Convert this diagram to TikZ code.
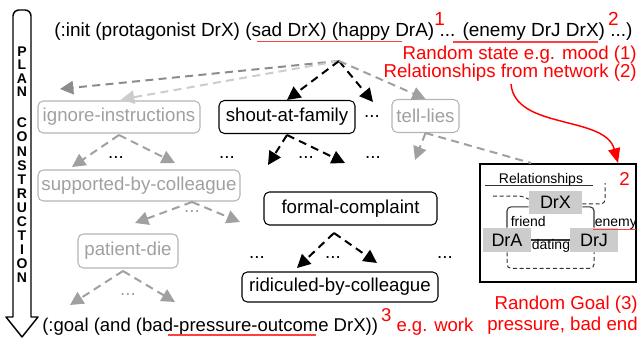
\documentclass[tikz,border=0pt]{standalone}
\usepackage{fontspec}
\setmainfont{Liberation Sans}
\usetikzlibrary{arrows.meta}
\definecolor{arrgray}{HTML}{A0A0A0}
\definecolor{darkarr}{HTML}{8C8C8C}
\definecolor{lightarr}{HTML}{CCCCCC}
\definecolor{boxgray}{HTML}{B4B4B4}
\definecolor{txtgray}{HTML}{A0A0A0}
\definecolor{relfill}{HTML}{CCCCCC}
\definecolor{linkdark}{HTML}{333333}
\tikzset{
  planbox/.style={draw, rounded corners=4pt, line width=0.8pt, inner sep=0pt,
    font=\fontsize{14}{16}\selectfont},
  greybox/.style={planbox, draw=boxgray, text=txtgray},
  dashlink/.style={line width=1.5pt, dash pattern=on 6pt off 4pt,
    -{Triangle[length=10pt,width=10pt]}},
  blacklink/.style={dashlink, color=black},
  greylink/.style={dashlink, color=arrgray},
  dotsnode/.style={font=\fontsize{14}{16}\selectfont, inner sep=0pt},
  greydots/.style={dotsnode, text=txtgray},
  planletter/.style={font=\fontsize{10.5}{12}\selectfont\bfseries, inner sep=0pt},
  relnode/.style={fill=relfill, inner sep=0pt, font=\fontsize{13.5}{15}\selectfont},
  reltext/.style={font=\fontsize{10.5}{12}\selectfont, inner sep=0pt},
  relline/.style={draw=linkdark, line width=0.8pt, rounded corners=3pt},
  reldash/.style={draw=linkdark, line width=0.75pt, dash pattern=on 3pt off 2pt, rounded corners=3pt},
  rednote/.style={text=red, font=\fontsize{14}{16}\selectfont, inner sep=0pt},
  redmark/.style={draw=red!75, line width=0.8pt},
}
\begin{document}
\begin{tikzpicture}[x=0.75pt,y=-0.75pt]
\useasboundingbox (0,0) rectangle (640,339);

% plan-construction arrow on the left
\draw[line width=1.1pt, line join=round]
  (13,317) -- (13,16) arc[start angle=180,end angle=270,radius=6]
  -- (25,10) arc[start angle=270,end angle=360,radius=6]
  -- (31,317) -- (38,317) -- (22,337) -- (6,317) -- cycle;
\foreach \ch/\yy [count=\i] in {P/51.5,L/65,A/78.5,N/92,
    C/123,O/137.1,N/151.2,S/165.3,T/179.4,R/193.5,U/207.6,C/221.7,T/235.8,I/249.9,O/264,N/278.1}
  \node[planletter] (pl\i) at (22,\yy) {\ch};

% initial state
\node[anchor=base west, inner sep=0pt, font=\fontsize{14.25}{16}\selectfont] (init) at (54,36.5)
  {(:init (protagonist DrX) (sad DrX) (happy DrA)\rlap{\color{red}\raisebox{7.9pt}{1}} ... (enemy DrJ DrX)\rlap{\hspace{2.25pt}\color{red}\raisebox{7.9pt}{2}} ...)};
\draw[redmark] (257,41.5) -- (402,41.5);
\draw[redmark] (453,42) -- (598,42);

\node[rednote, anchor=base east] (moodnote) at (637,59.5) {Random state e.g. mood (1)};
\node[rednote, anchor=base east] (netnote) at (637,77.5) {Relationships from network (2)};

% goal
\node[anchor=base west, inner sep=0pt, font=\fontsize{13.9}{16}\selectfont] (goal) at (42,331)
  {(:goal (and (bad-pressure-outcome DrX))\hspace{2.25pt}{\color{red}\raisebox{7.5pt}{3} e.g. work}};
\draw[redmark] (168,335) -- (316,335);
\node[rednote, anchor=base east] (goalnote) at (638,309.5) {Random Goal (3)};
\node[rednote, anchor=base east] (goalnote2) at (638,330) {pressure, bad end};

% plan steps
\node[greybox, minimum width=121.5pt, minimum height=24pt] (ign) at (119,117) {ignore-instructions};
\node[planbox, minimum width=102pt, minimum height=24.75pt] (shout) at (287,117) {shout-at-family};
\node[greybox, minimum width=50.25pt, minimum height=24.75pt] (tell) at (425.5,116) {tell-lies};
\node[greybox, minimum width=151.5pt, minimum height=23.25pt] (supp) at (139,185.5) {supported-by-colleague};
\node[greybox, minimum width=75pt, minimum height=25.5pt] (pat) at (128,251) {patient-die};
\node[planbox, minimum width=129.75pt, minimum height=24.75pt] (formal) at (350.5,208.5) {formal-complaint};
\node[planbox, minimum width=147pt, minimum height=22.5pt] (ridic) at (340,287) {ridiculed-by-colleague};

% elided branches
\node[dotsnode] (dA) at (372,117) {...};
\node[dotsnode] (dB) at (116,158) {...};
\node[dotsnode] (dC) at (227,158) {...};
\node[dotsnode] (dD) at (306,158) {...};
\node[dotsnode] (dE) at (373,158) {...};
\node[greydots] (dF) at (192,212) {...};
\node[greydots] (dG) at (128,295) {...};
\node[dotsnode] (dH) at (257,258) {...};
\node[dotsnode] (dI) at (333,258) {...};
\node[dotsnode] (dJ) at (445,258) {...};

% fork points and arrow ends
\coordinate (fk0) at (339,61);
\coordinate (fk1) at (119,135);
\coordinate (fk2) at (287,135);
\coordinate (fk3) at (192,202);
\coordinate (fk4) at (123,271);
\coordinate (fk5) at (334,233);
\coordinate (tA) at (60,89);
\coordinate (tB) at (121,99.5);
\coordinate (tC) at (373,102);
\coordinate (tD) at (72,167);
\coordinate (tE) at (175,163);
\coordinate (tF) at (268,165);
\coordinate (tG) at (345,163);
\coordinate (tH) at (415,160);
\coordinate (tI) at (135,223);
\coordinate (tJ) at (240,222);
\coordinate (tK) at (70,305);
\coordinate (tL) at (175,302);
\coordinate (tM) at (297,268);
\coordinate (tN) at (377,263);

\draw[dashlink, color=darkarr] (fk0) -- (tA);
\draw[dashlink, color=lightarr] (fk0) -- (tB);
\draw[blacklink] (fk0) -- (shout.north);
\draw[blacklink] (fk0) -- (tC);
\draw[greylink] (fk0) -- (tell.north);

\draw[greylink] (fk1) -- (tD);
\draw[greylink] (fk1) -- (tE);
\draw[blacklink] (fk2) -- (tF);
\draw[blacklink] (fk2) -- (tG);
\draw[greylink] (tell.south) -- (tH);
\draw[greylink] (fk3) -- (tI);
\draw[greylink] (fk3) -- (tJ);
\draw[greylink] (fk4) -- (tK);
\draw[greylink] (fk4) -- (tL);
\draw[blacklink] (fk5) -- (tM);
\draw[blacklink] (fk5) -- (tN);

% relationship network
\node[draw, line width=1.5pt, minimum width=117pt, minimum height=88.5pt, inner sep=0pt] (relbox) at (558,223) {};
\draw[line width=1.5pt, dash pattern=on 6pt off 4pt, color=arrgray] (tell.south) -- ([xshift=39pt]relbox.north west);

\node[rednote] (two) at (624.5,178.5) {2};
\node[reltext, anchor=base] (rtitle) at (541,183.5) {Relationships};
\coordinate (ulA) at (485,185.5);
\coordinate (ulB) at (593,185.5);
\draw[draw=linkdark, line width=0.9pt] (ulA) -- (ulB);

\node[relnode, minimum width=39.75pt, minimum height=17.25pt] (drx) at (555.5,202.5) {DrX};
\node[relnode, minimum width=36pt, minimum height=18pt] (dra) at (507,240) {DrA};
\node[relnode, minimum width=36pt, minimum height=18pt] (drj) at (594,240) {DrJ};

\draw[relline] ([yshift=-3.3pt]drx.west) -| (dra.north);
\draw[relline] ([yshift=-3.3pt]drx.east) -| (drj.north);
\draw[relline] (dra.east) -- (drj.west);
\node[reltext, anchor=base west] (friend) at (510.5,226) {friend};
\node[reltext, anchor=base west] (enemy) at (594.5,226) {enemy};
\node[reltext, anchor=base] (dating) at (551,249.5) {dating};
\draw[redmark] (593,229.5) -- (636,229.5);

\coordinate (din) at (493,196);
\coordinate (dinb) at (522,196);
\coordinate (dout) at (605,183);
\draw[reldash] (din) -- (dinb) -- ([yshift=2.5pt]drx.west);
\draw[reldash] ([yshift=-1pt]drx.east) -| (dout);
\draw[reldash] (dra.south) -- ++(0,16) -| (drj.south);

% red link from the note to the network
\coordinate (netfoot) at (511,84);
\draw[red, line width=1.1pt, -{Triangle[length=11pt,width=9pt]}]
  (netfoot) .. controls (515,130) and (605,115) .. ([xshift=-14.25pt]relbox.north east);
\end{tikzpicture}
\end{document}
